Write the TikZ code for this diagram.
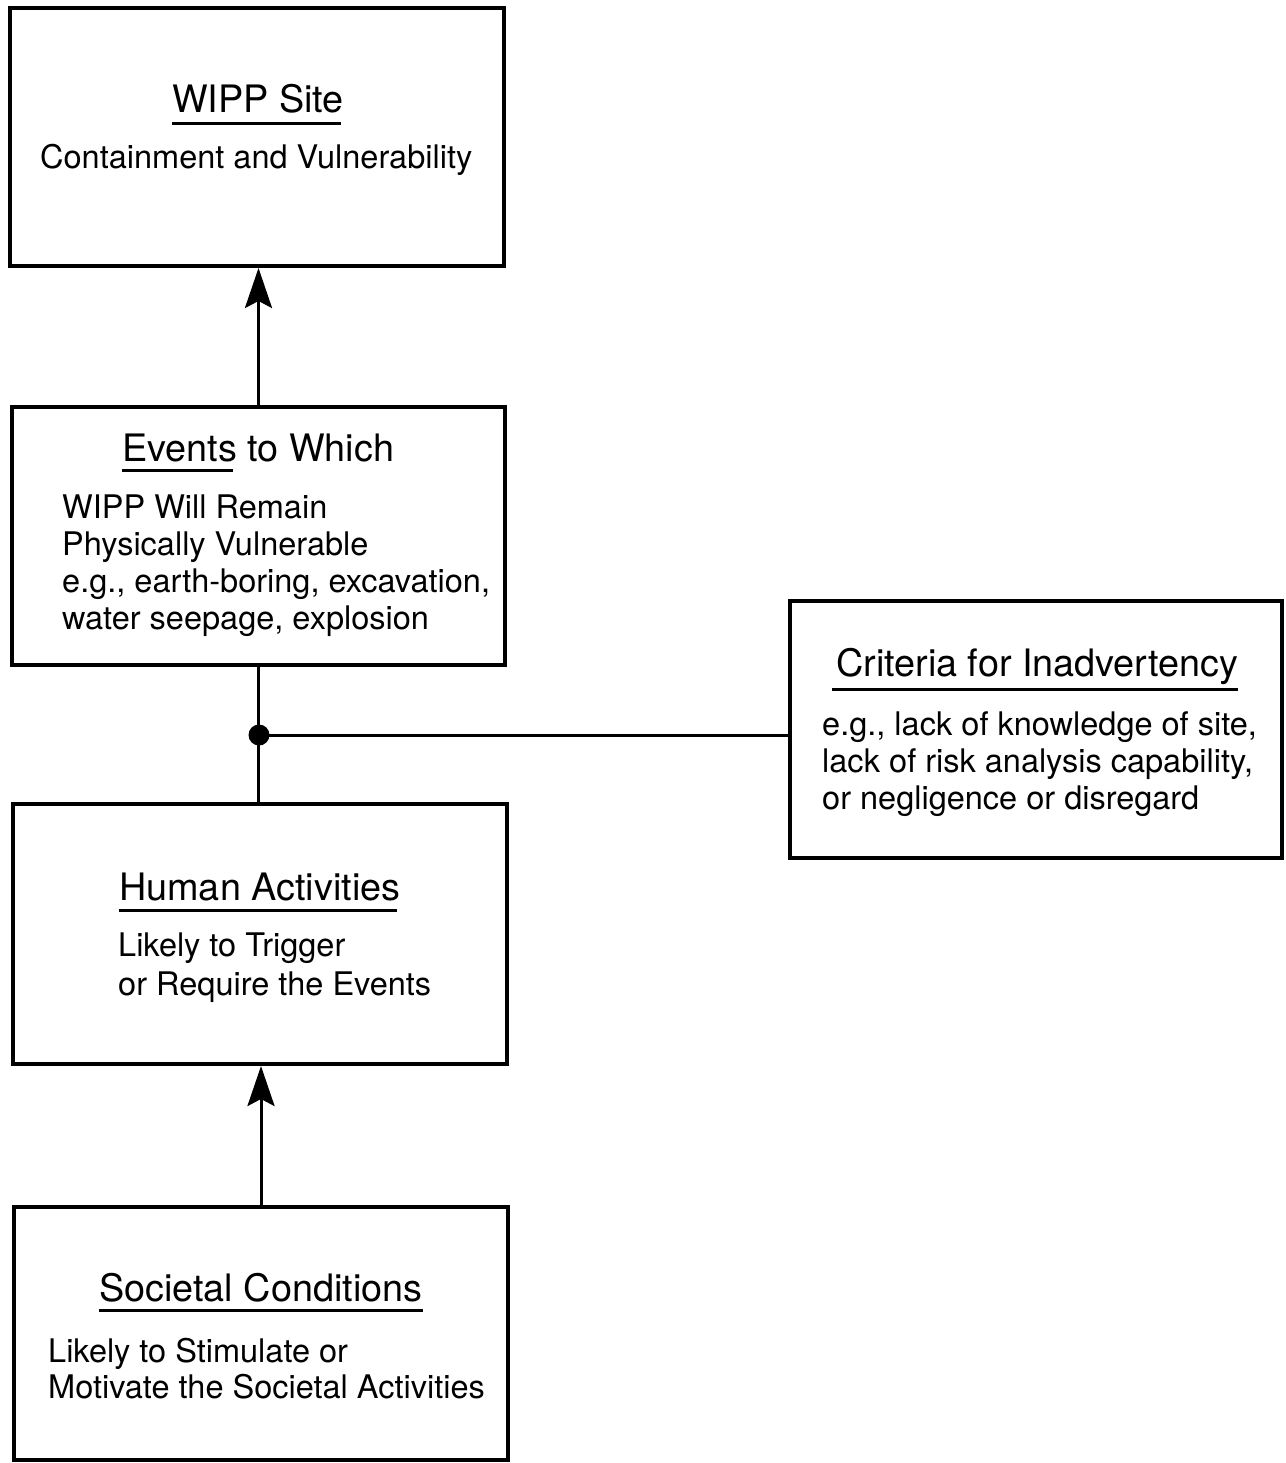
\documentclass[tikz,border=0pt]{standalone}
\usepackage{fontspec}
\setmainfont{TeX Gyre Heros}
\usetikzlibrary{arrows.meta}
\tikzset{
  box/.style={draw, line width=4pt, inner sep=0pt},
  ttl/.style={anchor=base west, inner sep=0pt, font=\fontsize{37.8}{44}\selectfont},
  bdy/.style={anchor=base west, inner sep=0pt, font=\fontsize{32.5}{37}\selectfont},
  uline/.style={line width=3pt},
  conn/.style={line width=3pt},
  arr/.style={line width=3pt, -{Stealth[length=40pt, width=27pt, inset=7pt]}},
}
\begin{document}
\begin{tikzpicture}[x=1pt,y=-1pt]
\useasboundingbox (0,0) rectangle (1285,1463);
% boxes
\node[box, minimum width=494pt, minimum height=258pt] (b1) at (257,137) {};
\node[box, minimum width=493pt, minimum height=258pt] (b2) at (258.5,536) {};
\node[box, minimum width=492pt, minimum height=257pt] (b3) at (1036,729.5) {};
\node[box, minimum width=494pt, minimum height=260pt] (b4) at (260,934) {};
\node[box, minimum width=494pt, minimum height=253pt] (b5) at (261,1333.5) {};
% box 1 text
\node[ttl] (t1) at (172,113) {WIPP Site};
\node[bdy] (t1a) at (40,169) {Containment and Vulnerability};
\draw[uline] (172,124) -- (341,124);
% box 2 text
\node[ttl] (t2) at (122,461) {Events to Which};
\node[bdy] (t2a) at (62,518) {WIPP Will Remain};
\node[bdy] (t2b) at (62,555) {Physically Vulnerable};
\node[bdy] (t2c) at (62,592) {e.g., earth-boring, excavation,};
\node[bdy] (t2d) at (62,629) {water seepage, explosion};
\draw[uline] (122,470) -- (233,470);
% box 3 text
\node[ttl] (t3) at (836,676) {Criteria for Inadvertency};
\node[bdy] (t3a) at (822,735) {e.g., lack of knowledge of site,};
\node[bdy] (t3b) at (822,772) {lack of risk analysis capability,};
\node[bdy] (t3c) at (822,809) {or negligence or disregard};
\draw[uline] (832,689) -- (1238,689);
% box 4 text
\node[ttl] (t4) at (119,900) {Human Activities};
\node[bdy] (t4a) at (118,956) {Likely to Trigger};
\node[bdy] (t4b) at (118,995) {or Require the Events};
\draw[uline] (119,910) -- (397,910);
% box 5 text
\node[ttl] (t5) at (99,1301) {Societal Conditions};
\node[bdy] (t5a) at (48,1362) {Likely to Stimulate or};
\node[bdy] (t5b) at (48,1398) {Motivate the Societal Activities};
\draw[uline] (99,1310) -- (423,1310);
% connectors
\draw[arr] (b2.north) -- (b2.north |- b1.south);
\draw[arr] (b5.north) -- (b5.north |- b4.south);
\coordinate (j) at (259,735);
\draw[conn] (b2.south) -- (b2.south |- b4.north);
\draw[conn] (j) -- (j -| b3.west);
\fill (j) circle (10.5pt);
\end{tikzpicture}
\end{document}
